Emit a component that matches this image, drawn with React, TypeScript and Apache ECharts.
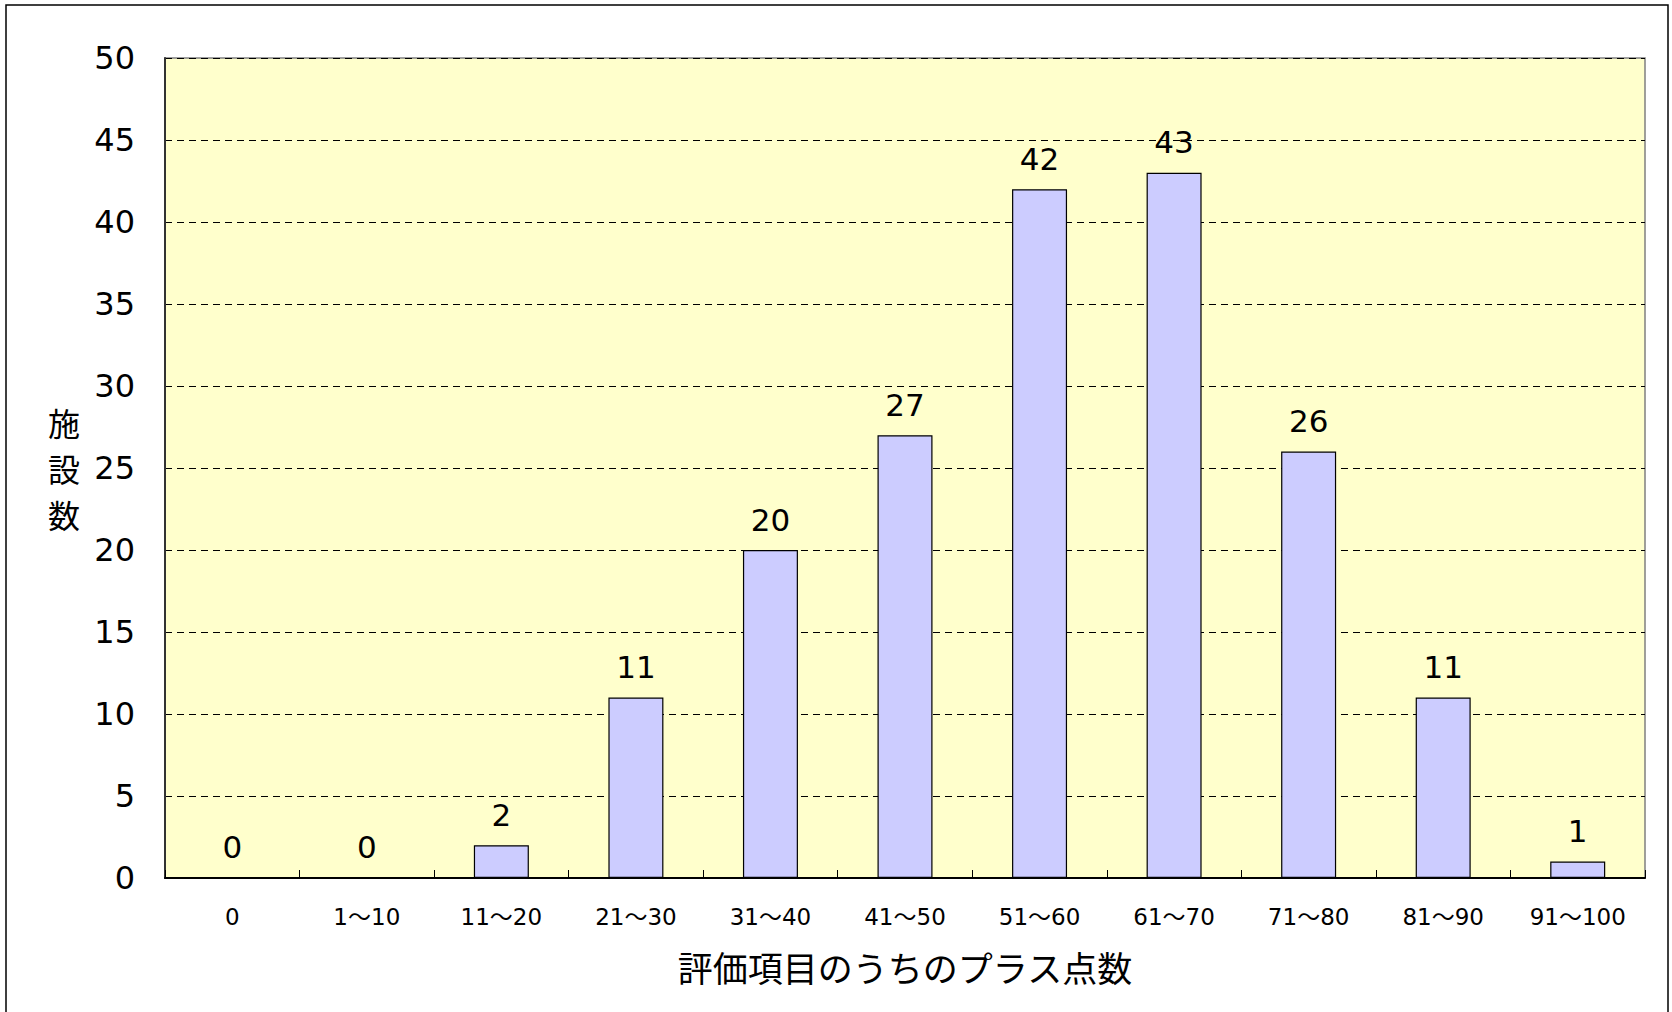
import React, { useEffect, useRef } from "react";
import * as echarts from "echarts";

const categories: string[] = ["0", "1～10", "11～20", "21～30", "31～40", "41～50", "51～60", "61～70", "71～80", "81～90", "91～100"];
const facilityCounts: number[] = [0, 0, 2, 11, 20, 27, 42, 43, 26, 11, 1];
const yMin = 0;
const yMax = 50;
const yInterval = 5;
const xAxisTitle = "評価項目のうちのプラス点数";
const yAxisTitle = "施\n設\n数";

const FONT = "'Noto Sans CJK JP', 'Noto Sans', sans-serif";
const NUM_FONT = "'DejaVu Sans', 'Noto Sans CJK JP', sans-serif";

export default function App() {
  const ref = useRef<HTMLDivElement>(null);
  useEffect(() => {
    document.body.style.margin = "0";
    if (!ref.current) return;
    const chart = echarts.init(ref.current, undefined, { renderer: "svg" });
    chart.setOption({
      animation: false,
      backgroundColor: "#ffffff",
      textStyle: { fontFamily: FONT, color: "#000" },
      graphic: [
        {
          type: "rect",
          shape: { x: 6, y: 5, width: 1662, height: 1030 },
          style: { fill: "none", stroke: "#000", lineWidth: 1.5 },
          silent: true,
          z: -1,
        },
      ],
      grid: {
        left: 165,
        top: 58,
        right: 27,
        bottom: 134,
        show: true,
        backgroundColor: "#FFFFCC",
        borderColor: "#808080",
        borderWidth: 1.5,
      },
      xAxis: {
        type: "category",
        data: categories,
        name: xAxisTitle,
        nameLocation: "middle",
        nameGap: 71,
        nameTextStyle: { fontFamily: FONT, fontSize: 35, color: "#000" },
        axisLine: { show: true, lineStyle: { color: "#000", width: 2 } },
        axisTick: { show: true, inside: true, length: 8, lineStyle: { color: "#000", width: 1 } },
        axisLabel: {
          interval: 0,
          margin: 27,
          fontSize: 23,
          color: "#000",
          fontFamily: NUM_FONT,
        },
        splitLine: { show: false },
      },
      yAxis: {
        type: "value",
        min: yMin,
        max: yMax,
        interval: yInterval,
        name: yAxisTitle,
        nameLocation: "middle",
        nameRotate: 0,
        nameGap: 85,
        nameTextStyle: { fontFamily: FONT, fontSize: 32, lineHeight: 46, color: "#000" },
        axisLine: { show: true, lineStyle: { color: "#333", width: 2 } },
        axisTick: { show: false },
        axisLabel: { fontSize: 32, color: "#000", margin: 30, fontFamily: NUM_FONT, padding: [6, 0, 0, 0] },
        splitLine: {
          show: true,
          lineStyle: { color: "#000", width: 1, type: [7, 5] },
        },
      },
      series: [
        {
          type: "bar",
          data: facilityCounts,
          barWidth: 55,
          itemStyle: { color: "#CCCCFF", borderColor: "#000", borderWidth: 1.2 },
          label: {
            show: true,
            position: "top",
            distance: 15,
            fontSize: 31,
            color: "#000",
            fontFamily: NUM_FONT,
          },
        },
      ],
    });
    return () => chart.dispose();
  }, []);
  return <div ref={ref} style={{ width: 1672, height: 1012 }} />;
}
